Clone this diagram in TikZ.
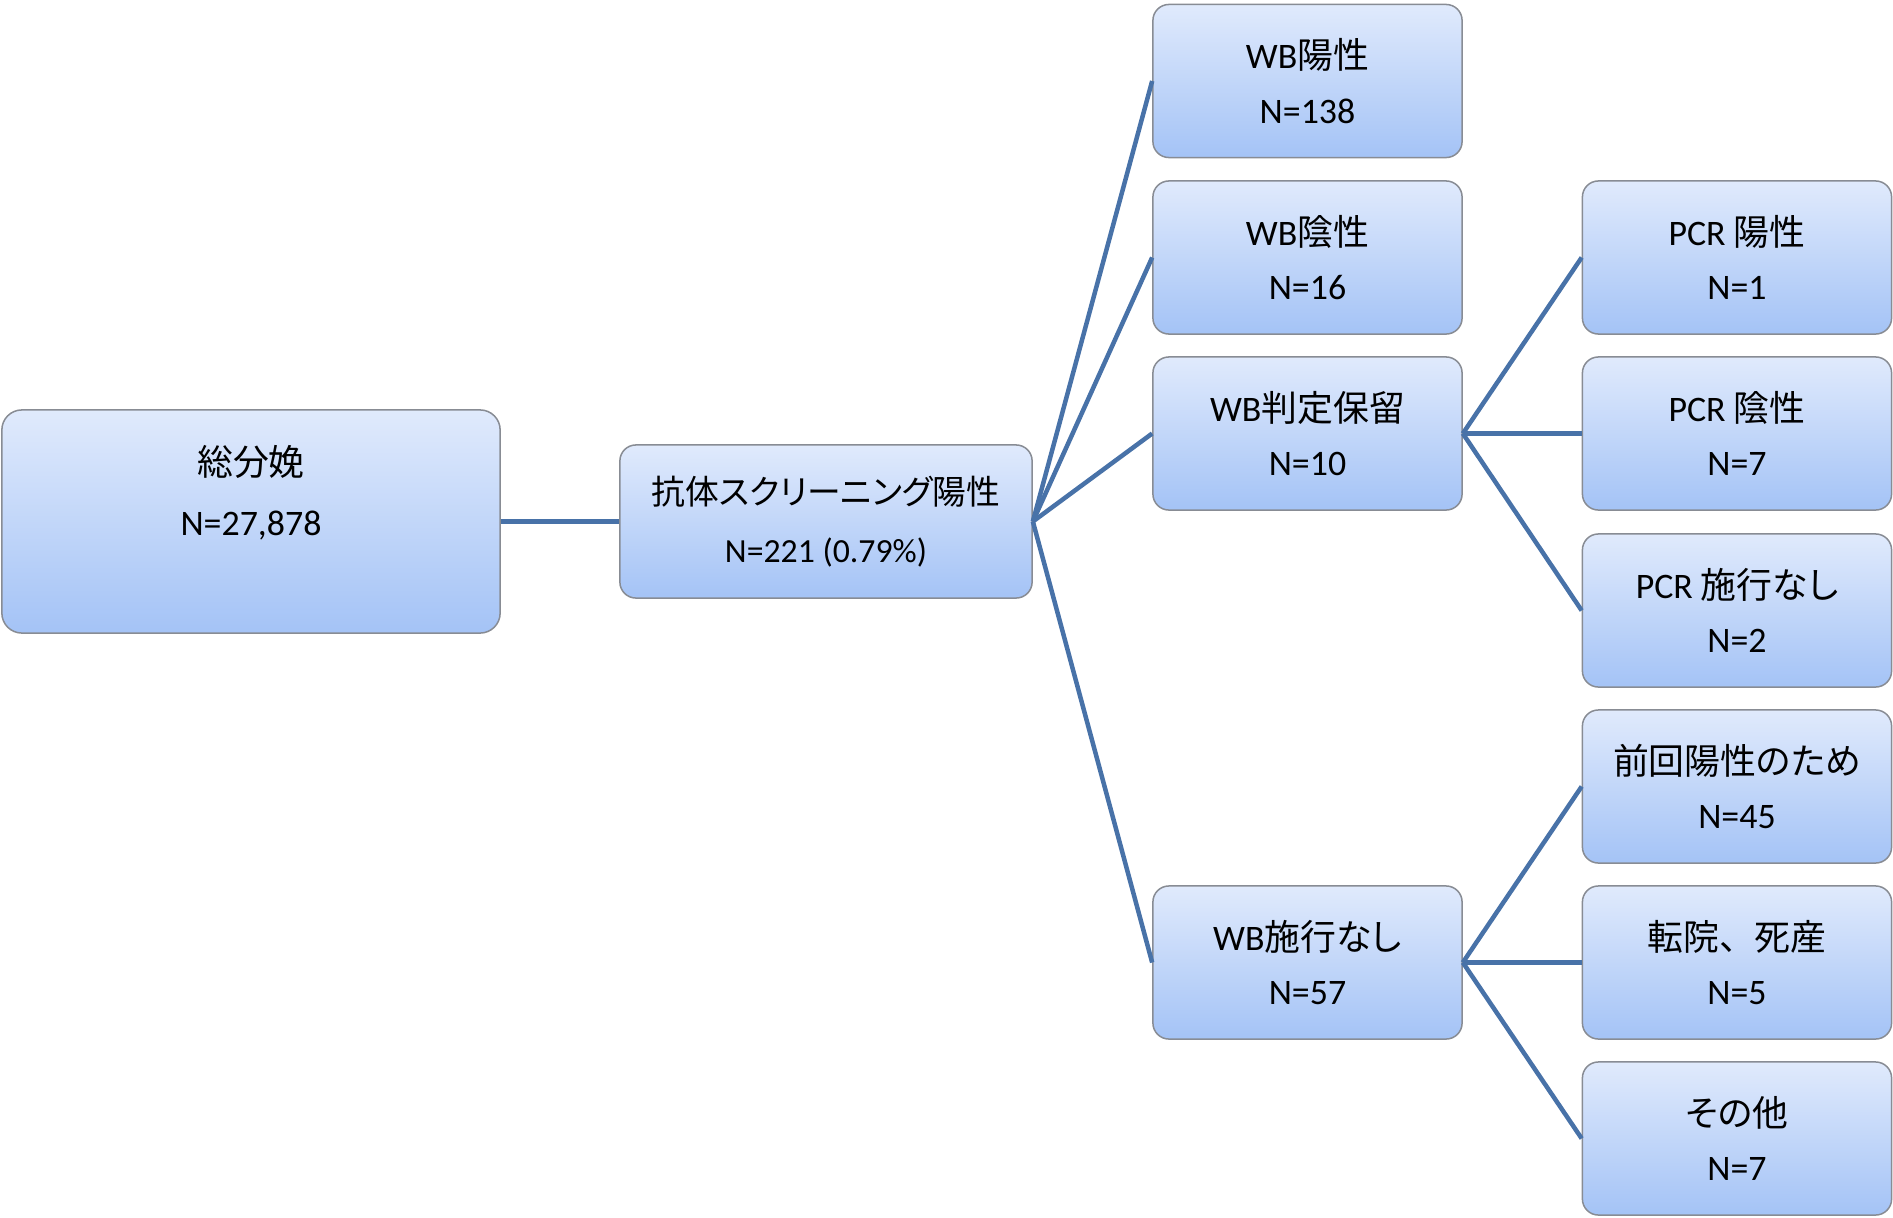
\documentclass[tikz,border=0pt]{standalone}
\usepackage{fontspec}
\setmainfont{Carlito}
\newfontfamily\cjkf[RawFeature=+palt]{Noto Sans CJK JP}
\newfontfamily\cjkw{Noto Sans CJK JP}
\newcommand\jpn[1]{{\cjkf #1}}
\newcommand\jpw[1]{{\cjkw #1}}
\definecolor{linkc}{RGB}{72,114,168}
\definecolor{topc}{RGB}{224,234,252}
\definecolor{botc}{RGB}{164,195,246}
\definecolor{edgec}{RGB}{136,140,148}
\begin{document}
\begin{tikzpicture}[x=0.01cm,y=-0.01cm,
  box/.style={rectangle, rounded corners=0.16cm, draw=edgec, line width=0.015cm,
    top color=topc, bottom color=botc, minimum width=3.09cm, minimum height=1.53cm,
    inner sep=0pt, align=center, font=\fontsize{10.2pt}{15.4pt}\selectfont},
  txt/.style={inner sep=0pt, align=center},
  link/.style={draw=linkc, line width=0.045cm}]
\useasboundingbox (0,0) rectangle (1893,1218);
% level 1
\node[box, minimum width=4.98cm, minimum height=2.23cm, rounded corners=0.2cm] (b1) at (251,521.5) {};
\node[txt, font=\fontsize{10.2pt}{17pt}\selectfont] (t1) at (251,493) {\jpn{総分娩}\\N=27,878};
% level 2
\node[box, minimum width=4.12cm, font=\fontsize{9.6pt}{16.4pt}\selectfont] (b2) at (826,521.5) {\jpn{抗体スクリーニング陽性}\\N=221 (0.79\%)};
% level 3
\node[box] (w1) at (1307.5,81) {WB\jpn{陽性}\\N=138};
\node[box] (w2) at (1307.5,257.5) {WB\jpn{陰性}\\N=16};
\node[box] (w3) at (1307.5,433.5) {WB\jpn{判定保留}\\N=10};
\node[box] (w4) at (1307.5,962.5) {WB\jpn{施行なし}\\N=57};
% level 4
\node[box] (p1) at (1737,257.5) {PCR \jpn{陽性}\\N=1};
\node[box] (p2) at (1737,433.5) {PCR \jpn{陰性}\\N=7};
\node[box] (p3) at (1737,610.5) {PCR \jpn{施行なし}\\N=2};
\node[box] (n1) at (1737,786.5) {\jpn{前回陽性のため}\\N=45};
\node[box] (n2) at (1737,962.5) {\jpw{転院、死産}\\N=5};
\node[box] (n3) at (1737,1138.5) {\jpn{その他}\\N=7};
% connectors
\draw[link] (b1.east) -- (b2.west);
\foreach \t in {w1,w2,w3,w4} \draw[link] (b2.east) -- (\t.west);
\foreach \t in {p1,p2,p3} \draw[link] (w3.east) -- (\t.west);
\foreach \t in {n1,n2,n3} \draw[link] (w4.east) -- (\t.west);
\end{tikzpicture}
\end{document}
